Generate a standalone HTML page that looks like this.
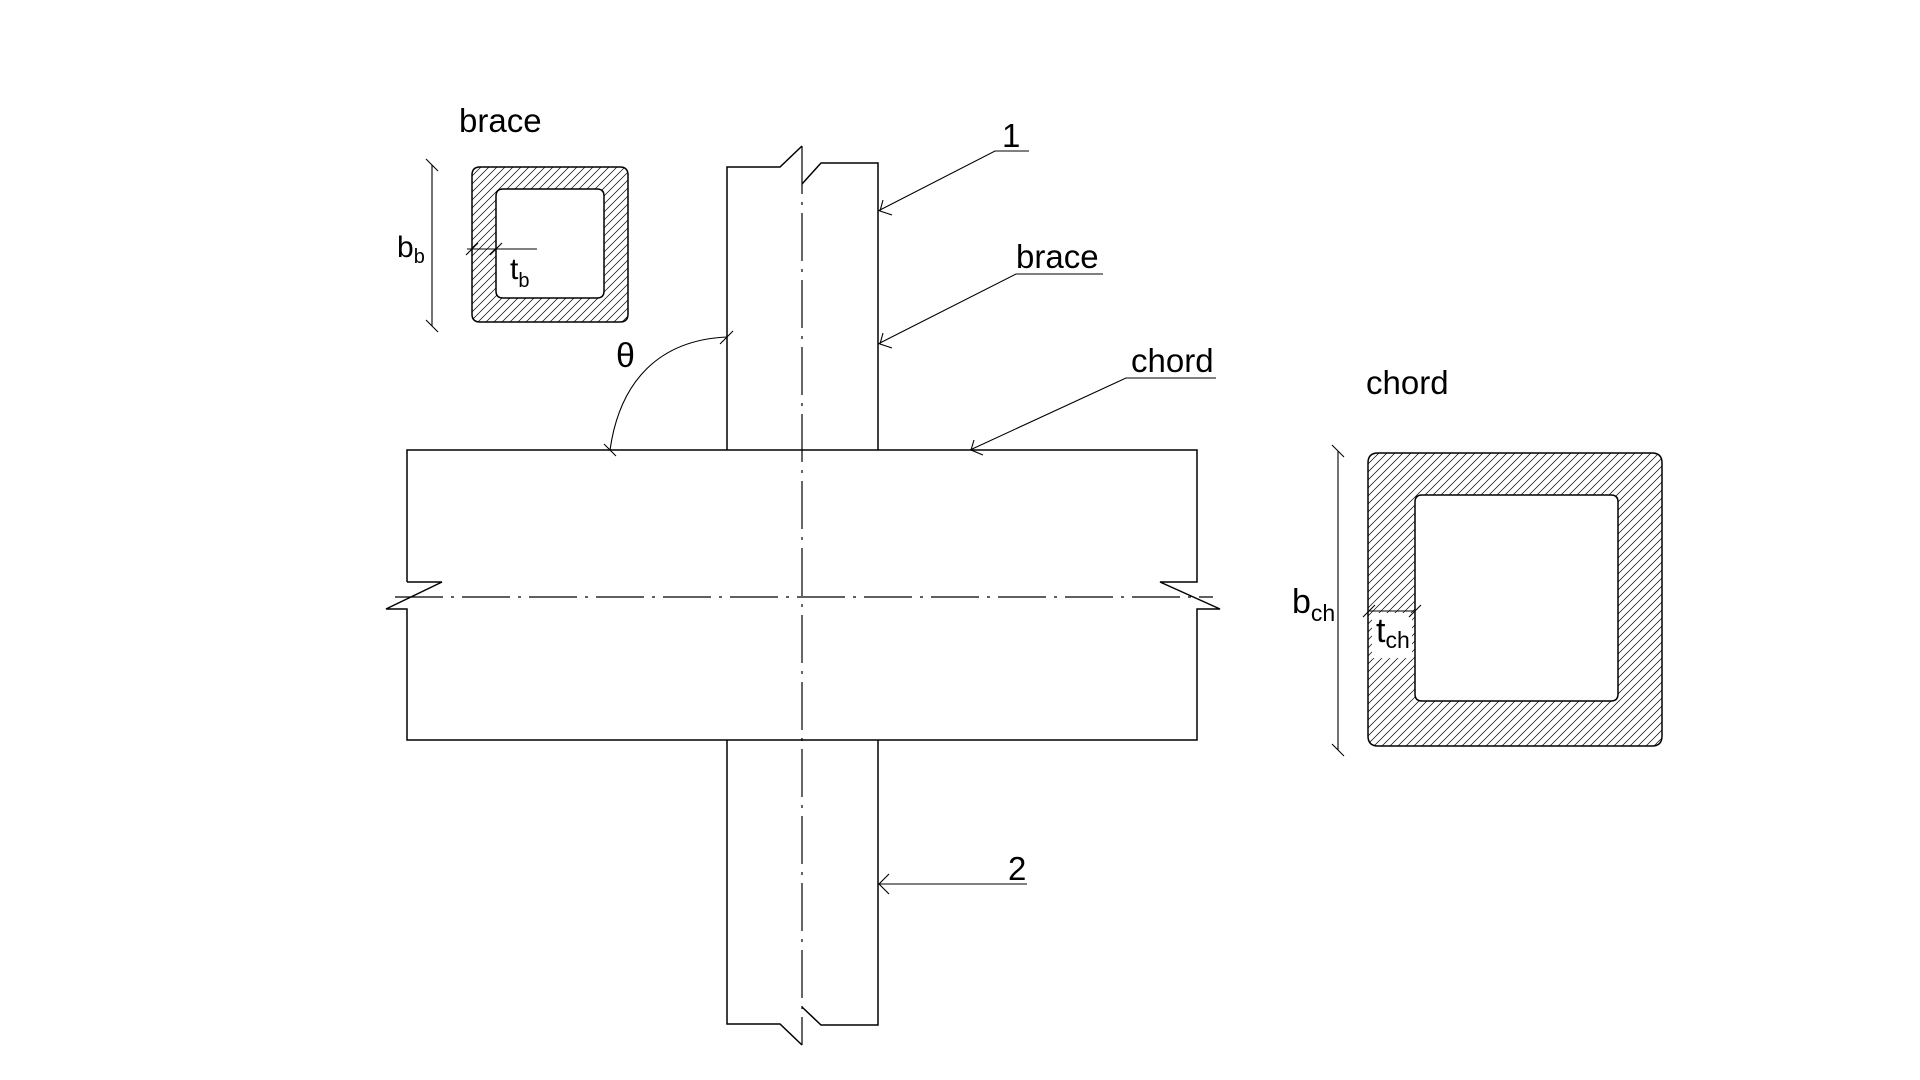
<!DOCTYPE html>
<html><head><meta charset="utf-8"><style>
html,body{margin:0;padding:0;background:#fff;width:1920px;height:1080px;overflow:hidden}
svg{display:block}
text{font-family:"Liberation Sans",Arial,sans-serif;fill:#000}
</style></head><body>
<svg width="1920" height="1080" viewBox="0 0 1920 1080" xmlns="http://www.w3.org/2000/svg">
<defs>
<pattern id="h" width="8" height="8" patternUnits="userSpaceOnUse">
<path d="M-2,10 L10,-2 M-2,2 L2,-2 M6,10 L10,6" stroke="#000" stroke-width="0.7"/>
</pattern>
</defs>
<g fill="none" stroke="#000" stroke-width="1.5">
<path d="M727,450 V167 H780 L802,146"/>
<path d="M802,184 L821,163 H878 V450"/>
<path d="M727,740 V1024 H780 L802,1045"/>
<path d="M802,1007 L821,1025 H878 V740"/>
<path d="M407,582 V450 H1197 V582 H1160 L1220,609 H1197 V740 H407 V609 H386 L442,582 H407"/>
</g>
<g stroke="#000" stroke-width="1.2" stroke-dasharray="48,8,3,8">
<line x1="802" y1="146" x2="802" y2="1045"/>
<line x1="395" y1="597" x2="1213" y2="597"/>
</g>
<g fill="none" stroke="#000" stroke-width="1.1">
<path d="M1029,151 H995 L878,211"/>
<path d="M883,200 L880,211 L892,215"/>
<path d="M1103,274 H1016 L878,344"/>
<path d="M883,333 L880,344 L892,348"/>
<path d="M1216,378 H1126 L970,450"/>
<path d="M974,440 L971,450 L983,455"/>
<path d="M1027,884 H878"/>
<path d="M889,874 L879,884 L889,894"/>
<path d="M727,337 C660,340 620,380 610,450"/>
<path d="M720,344 L733,331"/>
<path d="M604,444 L616,456"/>
</g>
<text x="459" y="132" font-size="33">brace</text>
<text x="1002" y="147" font-size="33">1</text>
<text x="1016" y="268" font-size="33">brace</text>
<text x="1131" y="372" font-size="33">chord</text>
<text x="1008" y="880" font-size="33">2</text>
<text x="616" y="367" font-size="34">θ</text>
<text x="1366" y="394" font-size="33">chord</text>
<path fill-rule="evenodd" fill="url(#h)" stroke="#000" stroke-width="1.5" d="M480,167 H620 Q628,167 628,175 V314 Q628,322 620,322 H480 Q472,322 472,314 V175 Q472,167 480,167 Z M503,189 H597 Q604,189 604,196 V291 Q604,298 597,298 H503 Q496,298 496,291 V196 Q496,189 503,189 Z"/>
<rect x="504" y="256" width="32" height="36" fill="#fff"/>
<g stroke="#000" stroke-width="1.1" fill="none">
<line x1="432" y1="165" x2="432" y2="326"/>
<line x1="426" y1="159" x2="438" y2="171"/>
<line x1="426" y1="320" x2="438" y2="332"/>
<line x1="467" y1="249" x2="537" y2="249"/>
<line x1="466" y1="255" x2="478" y2="243"/>
<line x1="490" y1="255" x2="502" y2="243"/>
</g>
<text x="397" y="257" font-size="30">b<tspan font-size="20" dy="6">b</tspan></text>
<text x="510" y="279" font-size="30">t<tspan font-size="20" dy="8">b</tspan></text>
<path fill-rule="evenodd" fill="url(#h)" stroke="#000" stroke-width="1.5" d="M1378,453 H1652 Q1662,453 1662,463 V736 Q1662,746 1652,746 H1378 Q1368,746 1368,736 V463 Q1368,453 1378,453 Z M1422,495 H1611 Q1618,495 1618,502 V694 Q1618,701 1611,701 H1422 Q1415,701 1415,694 V502 Q1415,495 1422,495 Z"/>
<rect x="1372" y="613" width="40" height="45" fill="#fff"/>
<g stroke="#000" stroke-width="1.1" fill="none">
<line x1="1338" y1="451" x2="1338" y2="750"/>
<line x1="1332" y1="445" x2="1344" y2="457"/>
<line x1="1332" y1="744" x2="1344" y2="756"/>
<line x1="1368" y1="611" x2="1415" y2="611"/>
<line x1="1363" y1="617" x2="1375" y2="605"/>
<line x1="1409" y1="617" x2="1421" y2="605"/>
</g>
<text x="1292" y="613" font-size="34">b<tspan font-size="23" dy="8">ch</tspan></text>
<text x="1376" y="642" font-size="34">t<tspan font-size="23" dy="6">ch</tspan></text>
</svg>
</body></html>
